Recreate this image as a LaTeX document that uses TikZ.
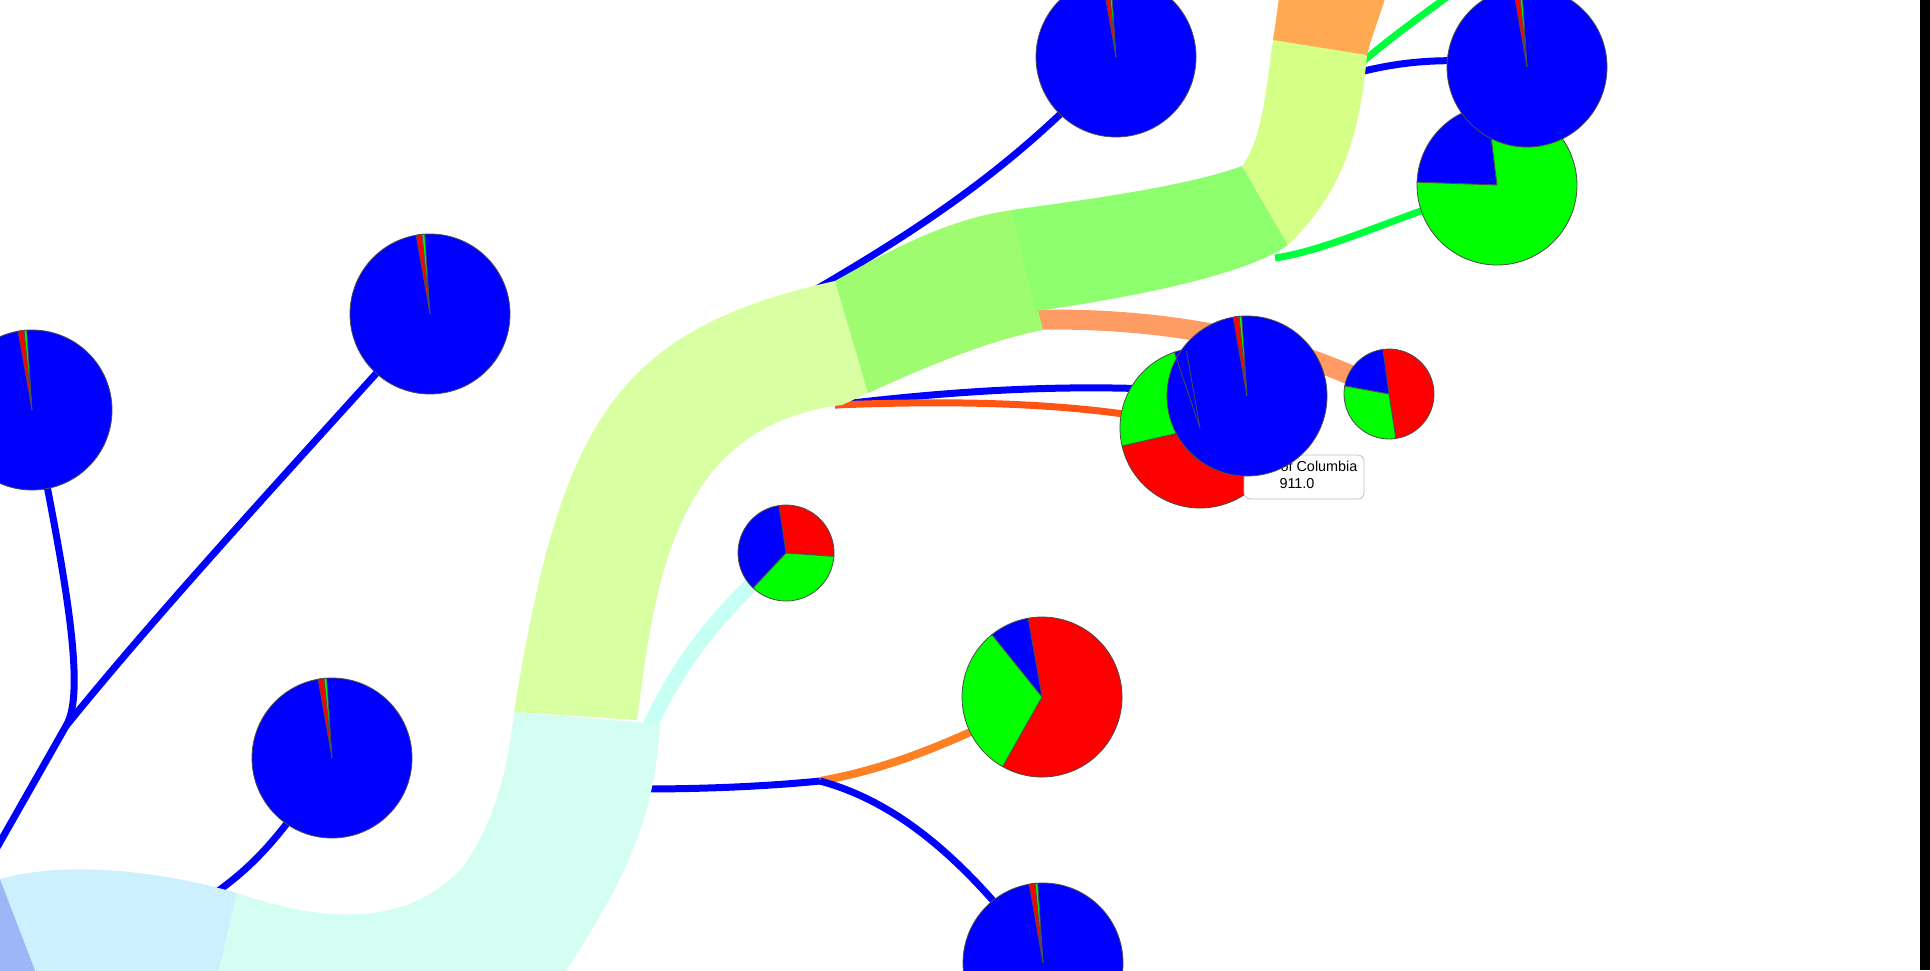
\documentclass[tikz,border=0pt]{standalone}
\usepackage{fontspec}
\newfontfamily\tipfont{Liberation Sans}
\usetikzlibrary{calc}

\definecolor{pieblue}{HTML}{0000FF}
\definecolor{piered}{HTML}{FF0000}
\definecolor{piegreen}{HTML}{00FF00}
\definecolor{bandperi}{HTML}{9CB6F7}
\definecolor{bandsky}{HTML}{CCF0FE}
\definecolor{bandmint}{HTML}{D4FEF2}
\definecolor{bandlime}{HTML}{D9FFA3}
\definecolor{bandgreen}{HTML}{9FFB6F}
\definecolor{bandgreenb}{HTML}{8DFE6E}
\definecolor{bandlemon}{HTML}{D6FF88}
\definecolor{bandorange}{HTML}{FFAA50}
\definecolor{flowred}{HTML}{FF5414}
\definecolor{floworange}{HTML}{FF8022}
\definecolor{flowsalmon}{HTML}{FF9C64}
\definecolor{flowgreen}{HTML}{00FF3C}
\definecolor{flowcyan}{HTML}{C6FFF3}

% one wedge of a pie: centre, radius, start, end, colour
\newcommand{\pieslice}[5]{%
  \filldraw[pieedge, fill=#5, shift={(#1)}, yscale=-1]
    (0,0) -- (#3:#2) arc[start angle=#3, end angle=#4, radius=#2] -- cycle;}
% nearly all blue pie with thin red and green slivers
\newcommand{\bluepie}[1]{%
  \filldraw[pieedge, fill=pieblue] (#1) circle[radius=80];
  \pieslice{#1}{80}{95.7}{100}{piered}
  \pieslice{#1}{80}{93.8}{95.7}{piegreen}}

\begin{document}
\begin{tikzpicture}[
    x=0.5pt, y=-0.5pt,
    pieedge/.style={draw=black!70, line width=0.4pt},
    link/.style={line width=3.5pt, draw=pieblue},
    tipbox/.style={draw=gray!50, fill=white, rounded corners=3pt, minimum width=60pt, minimum height=22pt, inner sep=0pt},
    tiptext/.style={font=\tipfont\fontsize{7.2}{8.6}\selectfont, inner sep=0pt, anchor=base}
]
\useasboundingbox (0,0) rectangle (1930,970);
\clip (0,0) rectangle (1930,970);

% pie centres
\coordinate (pieA) at (32,410);
\coordinate (pieB) at (430,314);
\coordinate (pieC) at (332,758);
\coordinate (pieD) at (1116,57);
\coordinate (pieE) at (1247,396);
\coordinate (pieF) at (1200,428);
\coordinate (pieG) at (1389,394);
\coordinate (pieH) at (1527,67);
\coordinate (pieI) at (1497,185);
\coordinate (pieJ) at (786,553);
\coordinate (pieL) at (1042,697);
\coordinate (pieM) at (1043,963);

% branch points
\coordinate (jA) at (66,726);
\coordinate (exitA) at (-30,895);
\coordinate (jK) at (820,781);
\coordinate (skyIn) at (205,900);
\coordinate (limeTop) at (803,297);
\coordinate (limeFoot) at (835,405);
\coordinate (greenFoot) at (1026,320);
\coordinate (lemonTop) at (1360,64);
\coordinate (lemonSide) at (1360,72);
\coordinate (lemonFoot) at (1275,258);
\coordinate (topExit) at (1470,-20);
\coordinate (mintTop) at (648,730);
\coordinate (mintSide) at (640,789);

% thin flows
\draw[link] (pieA) .. controls (62,560) and (88,690) .. (jA);
\draw[link] (pieB) .. controls (280,480) and (160,610) .. (jA) -- (exitA);
\draw[link] (pieC) .. controls (280,840) and (250,870) .. (skyIn);
\draw[link] (pieD) .. controls (1010,175) and (900,240) .. (limeTop);
\draw[link] (limeFoot) .. controls (960,390) and (1100,380) .. (pieE);
\draw[link, draw=flowred] (limeFoot) .. controls (960,400) and (1090,402) .. (pieF);
\draw[line width=10pt, draw=flowsalmon] (greenFoot) .. controls (1160,316) and (1290,340) .. (pieG);
\draw[link, draw=flowgreen] (lemonTop) .. controls (1400,30) and (1430,10) .. (topExit);
\draw[link] (lemonSide) .. controls (1400,62) and (1450,55) .. (pieH);
\draw[link, draw=flowgreen] (lemonFoot) .. controls (1330,250) and (1400,215) .. (pieI);
\draw[line width=7.5pt, draw=flowcyan] (mintTop) .. controls (680,660) and (720,610) .. (pieJ);
\draw[link] (mintSide) .. controls (720,789) and (780,785) .. (jK);
\draw[line width=4pt, draw=floworange] (jK) .. controls (880,770) and (940,750) .. (pieL);
\draw[link] (jK) .. controls (890,800) and (960,850) .. (pieM);

% wide band, one piece per colour
\fill[bandperi] (0,878) -- (37,975) -- (-5,975) -- (-5,878) -- cycle;
\fill[bandsky] (0,879) .. controls (60,862) and (150,868) .. (237,893)
  -- (218,975) -- (37,975) -- cycle;
\fill[bandmint] (237,893) .. controls (330,925) and (410,925) .. (463,867)
  .. controls (495,820) and (508,770) .. (514,712)
  -- (660,724) .. controls (655,800) and (640,860) .. (563,975)
  -- (218,975) -- cycle;
\fill[bandlime] (514,712) .. controls (560,430) and (610,330) .. (835,281)
  -- (868,393) -- (842,405) .. controls (675,425) and (655,580) .. (637,720)
  -- cycle;
\fill[bandgreen] (835,281) .. controls (890,250) and (950,218) .. (1013,210)
  -- (1043,330) .. controls (990,340) and (930,365) .. (868,393) -- cycle;
\fill[bandgreenb] (1011,210) .. controls (1100,198) and (1190,185) .. (1242,166)
  -- (1288,245) .. controls (1250,272) and (1150,295) .. (1036,311) -- cycle;
\fill[bandlemon] (1242,166) .. controls (1262,140) and (1266,90) .. (1273,40)
  -- (1367,55) .. controls (1360,130) and (1345,190) .. (1288,245) -- cycle;
\fill[bandorange] (1273,40) .. controls (1276,20) and (1278,5) .. (1280,-10)
  -- (1388,-10) .. controls (1380,15) and (1372,35) .. (1367,55) -- cycle;

% pies
\bluepie{pieA}
\bluepie{pieB}
\bluepie{pieC}
\bluepie{pieD}
\bluepie{pieM}
\pieslice{pieJ}{48}{-4}{98.5}{piered}
\pieslice{pieJ}{48}{98.5}{226.7}{pieblue}
\pieslice{pieJ}{48}{226.7}{356}{piegreen}
\pieslice{pieL}{80}{-119.5}{100}{piered}
\pieslice{pieL}{80}{100}{128.8}{pieblue}
\pieslice{pieL}{80}{128.8}{240.5}{piegreen}
\pieslice{pieI}{80}{97}{178}{pieblue}
\pieslice{pieI}{80}{178}{457}{piegreen}
\bluepie{pieH}
\pieslice{pieF}{80}{193}{400}{piered}
\pieslice{pieF}{80}{40}{108.6}{pieblue}
\pieslice{pieF}{80}{108.6}{193}{piegreen}

% tooltip under the front pie
\node[tipbox] (tip) at (1304,477) {};
\node[tiptext] (tipname) at (1295,471) {District of Columbia};
\node[tiptext] (tipvalue) at (1297,488) {911.0};

\bluepie{pieE}
\draw[pieedge] (pieF) -- ++(-13.5,-77);
\draw[pieedge] (pieF) -- ++(-25,-74);
\pieslice{pieG}{45}{-81.2}{97.8}{piered}
\pieslice{pieG}{45}{97.8}{169.7}{pieblue}
\pieslice{pieG}{45}{169.7}{278.8}{piegreen}

% right border strip
\fill[black] (1920,0) rectangle (1930,970);
\end{tikzpicture}
\end{document}
